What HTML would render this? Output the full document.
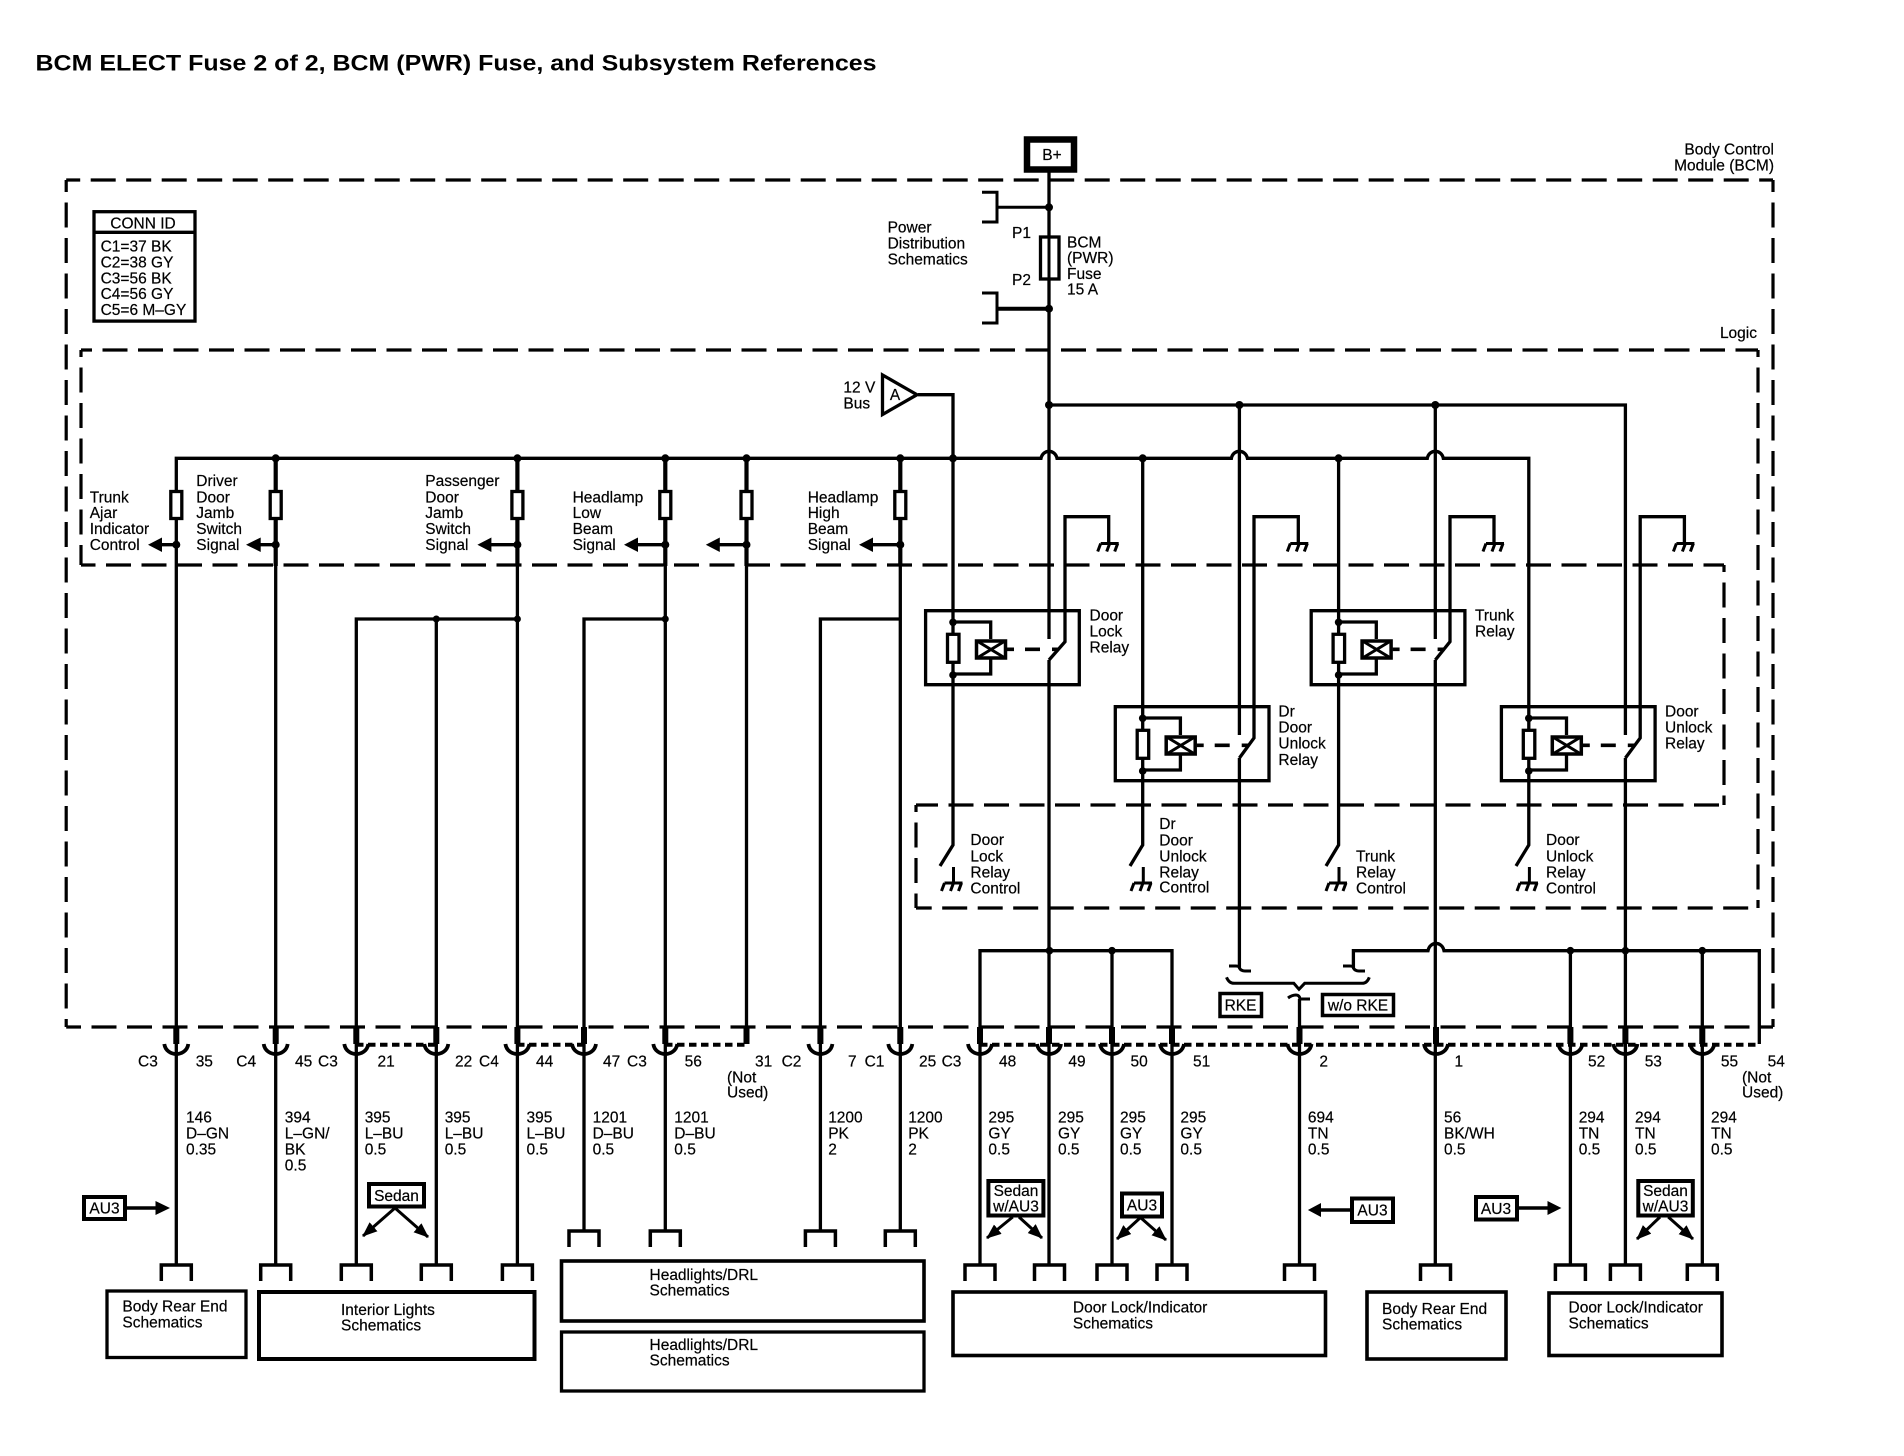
<!DOCTYPE html>
<html><head><meta charset="utf-8"><title>BCM ELECT Fuse 2 of 2</title>
<style>
html,body{margin:0;padding:0;background:#fff}
svg{display:block}
text{font-family:"Liberation Sans",sans-serif;font-size:15.5px;fill:#000;stroke:#000;stroke-width:.2px}
.m{text-anchor:middle}.e{text-anchor:end}
</style></head><body>
<svg xmlns="http://www.w3.org/2000/svg" width="1904" height="1456" viewBox="0 0 1904 1456">
<defs>
<marker id="ah" markerUnits="userSpaceOnUse" markerWidth="18" markerHeight="14" refX="14" refY="6" orient="auto"><path d="M0 0L15 6L0 12Z" fill="#000"/></marker>
<g id="relay">
<path d="M925.6 610.7H1079.3V684.7H925.6Z" fill="none" stroke="#000" stroke-width="3.3"/>
<path d="M953 622H990.7V639M953 674H990.7V659" fill="none" stroke="#000" stroke-width="3.3"/>
<rect x="947.5" y="634.3" width="11.5" height="28" fill="#fff" stroke="#000" stroke-width="3.3"/>
<rect x="976.5" y="641" width="29" height="17" fill="#fff" stroke="#000" stroke-width="3.5"/>
<path d="M977 641L1005 658M1005 641L977 658" stroke="#000" stroke-width="3"/>
<path d="M1007 649.3H1014M1025 649.3H1040M1052 649.3H1059" stroke="#000" stroke-width="3.6"/>
<circle cx="953" cy="622.3" r="3.8"/><circle cx="953" cy="675" r="3.8"/>
</g>
<path id="gu" d="M-8 0H10M-8 0L-11 8M1 0L-2 8M9 0L6 8" fill="none" stroke="#000" stroke-width="3"/>
<path id="ml" d="M-15 16V0H15V16" fill="none" stroke="#000" stroke-width="3.5"/>
<path id="cup" d="M-12 0C-11 7 -5 10 0 10C5 10 11 7 12 0" fill="none" stroke="#000" stroke-width="3.8"/>
</defs>

<text x="35.5" y="70.7" textLength="841" lengthAdjust="spacingAndGlyphs" style="font-size:22.5px;font-weight:bold;stroke-width:0">BCM ELECT Fuse 2 of 2, BCM (PWR) Fuse, and Subsystem References</text>

<!-- dashed boxes -->
<g fill="none" stroke="#000" stroke-width="3.2" stroke-dasharray="25 10.5">
<path d="M66.2 180H1773" stroke-dashoffset="11"/>
<path d="M66.2 180V1027" stroke-dashoffset="13"/>
<path d="M1773 180V1027" stroke-dashoffset="13"/>
<path d="M66.2 1027H1773" stroke-dashoffset="10.2"/>
<path d="M81 350H1758" stroke-dashoffset="14"/>
<path d="M81 350V565" stroke-dashoffset="18"/>
<path d="M1758 350V908" stroke-dashoffset="18"/>
<path d="M81 565H1724" stroke-dashoffset="10.5"/>
<path d="M1724 565V805" stroke-dashoffset="18"/>
<path d="M916 805H1724" stroke-dashoffset="3"/>
<path d="M916 805V908" stroke-dashoffset="18"/>
<path d="M916 908H1758" stroke-dashoffset="9.3"/>
</g>

<!-- conn id -->
<rect x="94" y="211.7" width="101" height="109.4" fill="none" stroke="#000" stroke-width="3.3"/>
<path d="M94 232.3H195" stroke="#000" stroke-width="3.3"/>
<text x="143" y="228.3" class="m">CONN ID</text>
<text x="100.6" y="251.7">C1=37 BK</text>
<text x="100.6" y="267.7">C2=38 GY</text>
<text x="100.6" y="283.3">C3=56 BK</text>
<text x="100.6" y="299">C4=56 GY</text>
<text x="100.6" y="315">C5=6 M&#8211;GY</text>

<!-- B+ -->
<rect x="1027" y="139.5" width="47" height="30" fill="#fff" stroke="#000" stroke-width="6.5"/>
<text x="1052" y="160" class="m">B+</text>

<!-- wires -->
<g fill="none" stroke="#000" stroke-width="3.3">
<path d="M1049 172V639M1049 660V1265"/>
<path d="M982 192.3H997V222H982M997 207.3H1049" stroke-width="3"/>
<path d="M982 293H997V323H982" stroke-width="3"/>
<path d="M997 308.7H1049" stroke-width="4"/>
<path d="M918 394.7H953V845L940 866"/>
<path d="M1049 405H1625.4V735M1625.4 758V1265"/>
<path d="M176.3 1265V458.3H1041C1043 449 1055 449 1057 458.3H1231.4C1233 449 1245.5 449 1247.4 458.3H1427.3C1429 449 1441.5 449 1443.3 458.3H1528.8V845L1516 866"/>
<path d="M275.7 566V1265M517.4 566V1265M665.3 566V1231M746.5 566V1044M900.3 566V1231"/>
<path d="M275.7 458V566M517.4 458V566M665.3 458V566M746.5 458V566M900.3 458V566" stroke-width="4.2"/>
<path d="M1142.7 458V845L1130 866M1338.6 458V845L1326 866"/>
<path d="M1239.4 405V735M1239.4 758V968"/>
<path d="M1435.3 405V639M1435.3 660V1265"/>
<path d="M1049 660L1065 641.7V516.7H1108.7V543"/>
<path d="M1239.4 758L1254 738V516.7H1298.3V543"/>
<path d="M1435.3 660L1450 641.7V516.7H1494V543"/>
<path d="M1625.4 758L1640.2 738V516.7H1684.4V543"/>
<path d="M953.5 867V883M1143.3 867V883M1339 867V883M1529.4 867V883" stroke-width="3"/>
<path d="M356.3 1265V619H517.4M436.3 619V1265"/>
<path d="M584 1231V619H665.3M820.4 1231V619H900.3"/>
<path d="M980 1265V950.7H1172V1265M1112 950.7V1265"/>
<path d="M1353.4 968V950.7H1428C1430 941 1442 941 1444 950.7H1759.3V1044"/>
<path d="M1570.4 950.7V1265M1702.3 950.7V1265"/>
<path d="M1299.5 999V1265"/>
<path d="M1229 966H1236Q1239.4 966 1239.4 968Q1241 971 1245 971H1251" stroke-width="3"/>
<path d="M1343 966H1350Q1353.4 966 1353.4 968Q1355 971 1359 971H1365" stroke-width="3"/>
<path d="M1288 998Q1292 995 1296 995Q1299.5 995 1300 999H1310" stroke-width="3"/>
<path d="M1226.5 977.3Q1229 983.3 1234 983.3H1293.8L1299 989.3L1304.7 983.3H1362.3Q1367 983.3 1369.3 977.3" stroke-width="3"/>
<!-- dotted -->
<path d="M356 1044.8H436M517 1044.8H584M665 1044.8H746M980 1044.8H1759" stroke-width="4" stroke-dasharray="7.5 4.5"/>
<!-- pins -->
<path stroke-width="6" d="M176.3 1027V1044M275.7 1027V1044M356.3 1027V1044M436.3 1027V1044M517.4 1027V1044M584 1027V1044M665.3 1027V1044M746.5 1027V1044M820.4 1027V1044M900.3 1027V1044M980 1027V1044M1049 1027V1044M1112 1027V1044M1172 1027V1044M1299.5 1027V1044M1436 1027V1044M1570.4 1027V1044M1625.4 1027V1044M1702.3 1027V1044"/>
</g>

<!-- fuse -->
<rect x="1040.5" y="237" width="18.5" height="42" fill="#fff" stroke="#000" stroke-width="3.3"/>
<path d="M1049 237V279" stroke="#000" stroke-width="3"/>

<!-- cups -->
<use href="#cup" x="176.3" y="1044"/><use href="#cup" x="275.7" y="1044"/><use href="#cup" x="356.3" y="1044"/><use href="#cup" x="436.3" y="1044"/><use href="#cup" x="517.4" y="1044"/><use href="#cup" x="584" y="1044"/><use href="#cup" x="665.3" y="1044"/><use href="#cup" x="820.4" y="1044"/><use href="#cup" x="900.3" y="1044"/><use href="#cup" x="980" y="1044"/><use href="#cup" x="1049" y="1044"/><use href="#cup" x="1112" y="1044"/><use href="#cup" x="1172" y="1044"/><use href="#cup" x="1299.5" y="1044"/><use href="#cup" x="1436" y="1044"/><use href="#cup" x="1570.4" y="1044"/><use href="#cup" x="1625.4" y="1044"/><use href="#cup" x="1702.3" y="1044"/>

<!-- male connectors -->
<use href="#ml" x="176.3" y="1265"/><use href="#ml" x="275.7" y="1265"/><use href="#ml" x="356.3" y="1265"/><use href="#ml" x="436.3" y="1265"/><use href="#ml" x="517.4" y="1265"/>
<use href="#ml" x="584" y="1231"/><use href="#ml" x="665.3" y="1231"/><use href="#ml" x="820.4" y="1231"/><use href="#ml" x="900.3" y="1231"/>
<use href="#ml" x="980" y="1265"/><use href="#ml" x="1049.5" y="1265"/><use href="#ml" x="1112" y="1265"/><use href="#ml" x="1172" y="1265"/><use href="#ml" x="1299.5" y="1265"/><use href="#ml" x="1435.5" y="1265"/><use href="#ml" x="1570.4" y="1265"/><use href="#ml" x="1625.4" y="1265"/><use href="#ml" x="1702.3" y="1265"/>

<!-- resistors -->
<g fill="#fff" stroke="#000" stroke-width="3.3">
<rect x="170.8" y="491.5" width="11" height="27"/><rect x="270.2" y="491.5" width="11" height="27"/><rect x="511.9" y="491.5" width="11" height="27"/><rect x="659.8" y="491.5" width="11" height="27"/><rect x="741" y="491.5" width="11" height="27"/><rect x="894.8" y="491.5" width="11" height="27"/>
</g>

<!-- signal arrows -->
<g stroke="#000" stroke-width="3.3">
<path d="M160 544.7H176M259 544.7H275.7M490 544.7H517M637 544.7H665M718 544.7H746M872 544.7H900"/>
</g>
<path d="M148 544.7L162 537.5V552Z M246 544.7L260.7 537.5V552Z M477.4 544.7L491.4 537.5V552Z M624 544.7L638 537.5V552Z M705.8 544.7L719.8 537.5V552Z M859 544.7L873 537.5V552Z"/>

<!-- dots -->
<g>
<circle cx="275.7" cy="458.3" r="4"/><circle cx="517.4" cy="458.3" r="4"/><circle cx="665.3" cy="458.3" r="4"/><circle cx="746.5" cy="458.3" r="4"/><circle cx="900.3" cy="458.3" r="4"/><circle cx="953" cy="458.3" r="4"/><circle cx="1142.7" cy="458.3" r="4"/><circle cx="1338.6" cy="458.3" r="4"/>
<circle cx="176.3" cy="544.7" r="4"/><circle cx="275.7" cy="544.7" r="4"/><circle cx="517.4" cy="544.7" r="4"/><circle cx="665.3" cy="544.7" r="4"/><circle cx="746.5" cy="544.7" r="4"/><circle cx="900.3" cy="544.7" r="4"/>
<circle cx="1049" cy="207.3" r="4"/><circle cx="1049" cy="308.7" r="4"/><circle cx="1049" cy="405" r="4"/><circle cx="1239.4" cy="405" r="4"/><circle cx="1435.3" cy="405" r="4"/>
<circle cx="436.3" cy="619" r="3.5"/><circle cx="517.4" cy="619" r="3.5"/><circle cx="665.3" cy="619" r="3.5"/>
<circle cx="1049.5" cy="950.7" r="3.8"/><circle cx="1112" cy="950.7" r="3.8"/><circle cx="1570.4" cy="950.7" r="3.8"/><circle cx="1625.4" cy="950.7" r="3.8"/><circle cx="1702.3" cy="950.7" r="3.8"/>
</g>

<!-- relays -->
<use href="#relay"/>
<use href="#relay" x="189.7" y="96"/>
<use href="#relay" x="385.6" y="0"/>
<use href="#relay" x="575.8" y="96"/>

<!-- grounds -->
<use href="#gu" x="1108.7" y="543.5"/><use href="#gu" x="1298.3" y="543.5"/><use href="#gu" x="1494" y="543.5"/><use href="#gu" x="1684.4" y="543.5"/>
<use href="#gu" x="952.5" y="883"/><use href="#gu" x="1142" y="883"/><use href="#gu" x="1337" y="883"/><use href="#gu" x="1528" y="883"/>

<!-- triangle A -->
<path d="M882.5 375V414.5L917 394.7Z" fill="#fff" stroke="#000" stroke-width="3.3"/>
<text x="895" y="400" class="m">A</text>
<text x="843.4" y="392.7">12 V</text><text x="843.4" y="408.3">Bus</text>

<!-- top labels -->
<text x="887.6" y="232.7">Power</text><text x="887.6" y="248.7">Distribution</text><text x="887.6" y="264.7">Schematics</text>
<text x="1012" y="238">P1</text><text x="1012" y="285">P2</text>
<text x="1067" y="247.7">BCM</text><text x="1067" y="263">(PWR)</text><text x="1067" y="279">Fuse</text><text x="1067" y="294.7">15 A</text>
<text x="1774" y="154.5" class="e">Body Control</text><text x="1774" y="170.7" class="e">Module (BCM)</text>
<text x="1757" y="338" class="e">Logic</text>

<!-- signal labels -->
<text x="89.7" y="502.3">Trunk</text><text x="89.7" y="518">Ajar</text><text x="89.7" y="534">Indicator</text><text x="89.7" y="550">Control</text>
<text x="196.3" y="486">Driver</text><text x="196.3" y="502.3">Door</text><text x="196.3" y="518">Jamb</text><text x="196.3" y="534">Switch</text><text x="196.3" y="550">Signal</text>
<text x="425.3" y="486">Passenger</text><text x="425.3" y="502.3">Door</text><text x="425.3" y="518">Jamb</text><text x="425.3" y="534">Switch</text><text x="425.3" y="550">Signal</text>
<text x="572.6" y="502.3">Headlamp</text><text x="572.6" y="518">Low</text><text x="572.6" y="534">Beam</text><text x="572.6" y="550">Signal</text>
<text x="807.7" y="502.3">Headlamp</text><text x="807.7" y="518">High</text><text x="807.7" y="534">Beam</text><text x="807.7" y="550">Signal</text>

<!-- relay labels -->
<text x="1089.5" y="620.7">Door</text><text x="1089.5" y="636.7">Lock</text><text x="1089.5" y="652.7">Relay</text>
<text x="1278.4" y="716.7">Dr</text><text x="1278.4" y="732.7">Door</text><text x="1278.4" y="748.7">Unlock</text><text x="1278.4" y="765">Relay</text>
<text x="1475" y="620.7">Trunk</text><text x="1475" y="636.7">Relay</text>
<text x="1665" y="716.7">Door</text><text x="1665" y="732.7">Unlock</text><text x="1665" y="748.7">Relay</text>
<text x="970.4" y="845">Door</text><text x="970.4" y="861.7">Lock</text><text x="970.4" y="877.7">Relay</text><text x="970.4" y="893.3">Control</text>
<text x="1159.3" y="829">Dr</text><text x="1159.3" y="845.7">Door</text><text x="1159.3" y="861.7">Unlock</text><text x="1159.3" y="877.3">Relay</text><text x="1159.3" y="892.7">Control</text>
<text x="1356" y="861.7">Trunk</text><text x="1356" y="877.7">Relay</text><text x="1356" y="893.3">Control</text>
<text x="1546" y="845">Door</text><text x="1546" y="861.7">Unlock</text><text x="1546" y="877.7">Relay</text><text x="1546" y="893.3">Control</text>

<!-- RKE -->
<rect x="1220" y="993.5" width="41.5" height="23" fill="#fff" stroke="#000" stroke-width="3.5"/>
<text x="1240.5" y="1010.7" class="m">RKE</text>
<rect x="1322.5" y="994.5" width="71" height="21" fill="#fff" stroke="#000" stroke-width="3.5"/>
<text x="1358" y="1010.7" class="m">w/o RKE</text>

<!-- pin labels -->
<g>
<text x="138" y="1066.7">C3</text><text x="195.7" y="1066.7">35</text><text x="236.3" y="1066.7">C4</text><text x="295" y="1066.7">45</text><text x="318" y="1066.7">C3</text><text x="377.5" y="1066.7">21</text><text x="455" y="1066.7">22</text><text x="479" y="1066.7">C4</text><text x="536" y="1066.7">44</text><text x="603" y="1066.7">47</text><text x="627" y="1066.7">C3</text><text x="684.6" y="1066.7">56</text><text x="755" y="1066.7">31</text><text x="781.6" y="1066.7">C2</text><text x="848" y="1066.7">7</text><text x="864.6" y="1066.7">C1</text><text x="919" y="1066.7">25</text><text x="941.6" y="1066.7">C3</text><text x="999" y="1066.7">48</text><text x="1068.4" y="1066.7">49</text><text x="1130.5" y="1066.7">50</text><text x="1193" y="1066.7">51</text><text x="1319.4" y="1066.7">2</text><text x="1454.5" y="1066.7">1</text><text x="1588" y="1066.7">52</text><text x="1644.7" y="1066.7">53</text><text x="1720.9" y="1066.7">55</text><text x="1767.6" y="1066.7">54</text>
<text x="727" y="1082.3">(Not</text><text x="727" y="1097.7">Used)</text>
<text x="1742" y="1082.3">(Not</text><text x="1742" y="1097.7">Used)</text>
</g>

<!-- wire labels -->
<g>
<text x="186" y="1122.7">146</text><text x="186" y="1138.7">D&#8211;GN</text><text x="186" y="1154.3">0.35</text>
<text x="284.8" y="1122.7">394</text><text x="284.8" y="1138.7">L&#8211;GN/</text><text x="284.8" y="1154.3">BK</text><text x="284.8" y="1170.3">0.5</text>
<text x="364.7" y="1122.7">395</text><text x="364.7" y="1138.7">L&#8211;BU</text><text x="364.7" y="1154.3">0.5</text>
<text x="444.7" y="1122.7">395</text><text x="444.7" y="1138.7">L&#8211;BU</text><text x="444.7" y="1154.3">0.5</text>
<text x="526.5" y="1122.7">395</text><text x="526.5" y="1138.7">L&#8211;BU</text><text x="526.5" y="1154.3">0.5</text>
<text x="592.6" y="1122.7">1201</text><text x="592.6" y="1138.7">D&#8211;BU</text><text x="592.6" y="1154.3">0.5</text>
<text x="674.3" y="1122.7">1201</text><text x="674.3" y="1138.7">D&#8211;BU</text><text x="674.3" y="1154.3">0.5</text>
<text x="828.2" y="1122.7">1200</text><text x="828.2" y="1138.7">PK</text><text x="828.2" y="1154.3">2</text>
<text x="908.2" y="1122.7">1200</text><text x="908.2" y="1138.7">PK</text><text x="908.2" y="1154.3">2</text>
<text x="988.4" y="1122.7">295</text><text x="988.4" y="1138.7">GY</text><text x="988.4" y="1154.3">0.5</text>
<text x="1058" y="1122.7">295</text><text x="1058" y="1138.7">GY</text><text x="1058" y="1154.3">0.5</text>
<text x="1120" y="1122.7">295</text><text x="1120" y="1138.7">GY</text><text x="1120" y="1154.3">0.5</text>
<text x="1180.4" y="1122.7">295</text><text x="1180.4" y="1138.7">GY</text><text x="1180.4" y="1154.3">0.5</text>
<text x="1307.9" y="1122.7">694</text><text x="1307.9" y="1138.7">TN</text><text x="1307.9" y="1154.3">0.5</text>
<text x="1444" y="1122.7">56</text><text x="1444" y="1138.7">BK/WH</text><text x="1444" y="1154.3">0.5</text>
<text x="1578.7" y="1122.7">294</text><text x="1578.7" y="1138.7">TN</text><text x="1578.7" y="1154.3">0.5</text>
<text x="1635" y="1122.7">294</text><text x="1635" y="1138.7">TN</text><text x="1635" y="1154.3">0.5</text>
<text x="1711" y="1122.7">294</text><text x="1711" y="1138.7">TN</text><text x="1711" y="1154.3">0.5</text>
</g>

<!-- option boxes -->
<g fill="#fff" stroke="#000" stroke-width="4">
<rect x="84" y="1197" width="41" height="22"/>
<rect x="369" y="1184" width="55" height="22.5"/>
<rect x="988.4" y="1181" width="55" height="34.5"/>
<rect x="1122" y="1193.5" width="40" height="23"/>
<rect x="1352" y="1198.5" width="41" height="23.5"/>
<rect x="1476" y="1197" width="41" height="22.5"/>
<rect x="1638.3" y="1181" width="54.5" height="34.5"/>
</g>
<text x="104.5" y="1213.5" class="m">AU3</text>
<text x="396.5" y="1201" class="m">Sedan</text>
<text x="1016" y="1196" class="m">Sedan</text><text x="1016" y="1211.7" class="m">w/AU3</text>
<text x="1142" y="1210.7" class="m">AU3</text>
<text x="1372.5" y="1215.7" class="m">AU3</text>
<text x="1496" y="1214" class="m">AU3</text>
<text x="1665.5" y="1196" class="m">Sedan</text><text x="1665.5" y="1211.7" class="m">w/AU3</text>

<g stroke="#000" stroke-width="3" fill="none">
<path d="M126 1208H158M1350 1210H1320M1518 1208H1550" stroke-width="3.5"/>
<path d="M395 1208L363 1236" marker-end="url(#ah)"/><path d="M395 1208L428 1237" marker-end="url(#ah)"/>
<path d="M1012.7 1217L987 1238" marker-end="url(#ah)"/><path d="M1019 1217L1042 1238" marker-end="url(#ah)"/>
<path d="M1140 1218L1117 1239" marker-end="url(#ah)"/><path d="M1141 1218L1166 1240" marker-end="url(#ah)"/>
<path d="M1660 1217L1637 1239" marker-end="url(#ah)"/><path d="M1668.3 1217L1693 1239" marker-end="url(#ah)"/>
</g>
<path d="M170 1208L155.5 1201V1215Z M1307.9 1210L1321 1203V1217Z M1561.4 1208L1547.5 1201V1215Z"/>

<!-- schematic boxes -->
<g fill="none" stroke="#000">
<rect x="107" y="1291" width="139" height="66.5" stroke-width="3.3"/>
<rect x="259" y="1292" width="275.5" height="67" stroke-width="4"/>
<rect x="561.5" y="1261" width="362.5" height="60" stroke-width="3.6"/>
<rect x="561.5" y="1332" width="362.5" height="59" stroke-width="3.3"/>
<rect x="953" y="1292" width="372.5" height="63.5" stroke-width="3.6"/>
<rect x="1367" y="1292" width="139" height="67" stroke-width="3.6"/>
<rect x="1549" y="1293" width="173" height="62.5" stroke-width="3.6"/>
</g>
<text x="122.4" y="1311.7">Body Rear End</text><text x="122.4" y="1327.7">Schematics</text>
<text x="341" y="1315">Interior Lights</text><text x="341" y="1330.7">Schematics</text>
<text x="649.5" y="1280">Headlights/DRL</text><text x="649.5" y="1295.7">Schematics</text>
<text x="649.5" y="1350">Headlights/DRL</text><text x="649.5" y="1365.7">Schematics</text>
<text x="1072.9" y="1312.7">Door Lock/Indicator</text><text x="1072.9" y="1328.3">Schematics</text>
<text x="1382" y="1314">Body Rear End</text><text x="1382" y="1329.3">Schematics</text>
<text x="1568.5" y="1312.7">Door Lock/Indicator</text><text x="1568.5" y="1328.3">Schematics</text>
</svg>
</body></html>
